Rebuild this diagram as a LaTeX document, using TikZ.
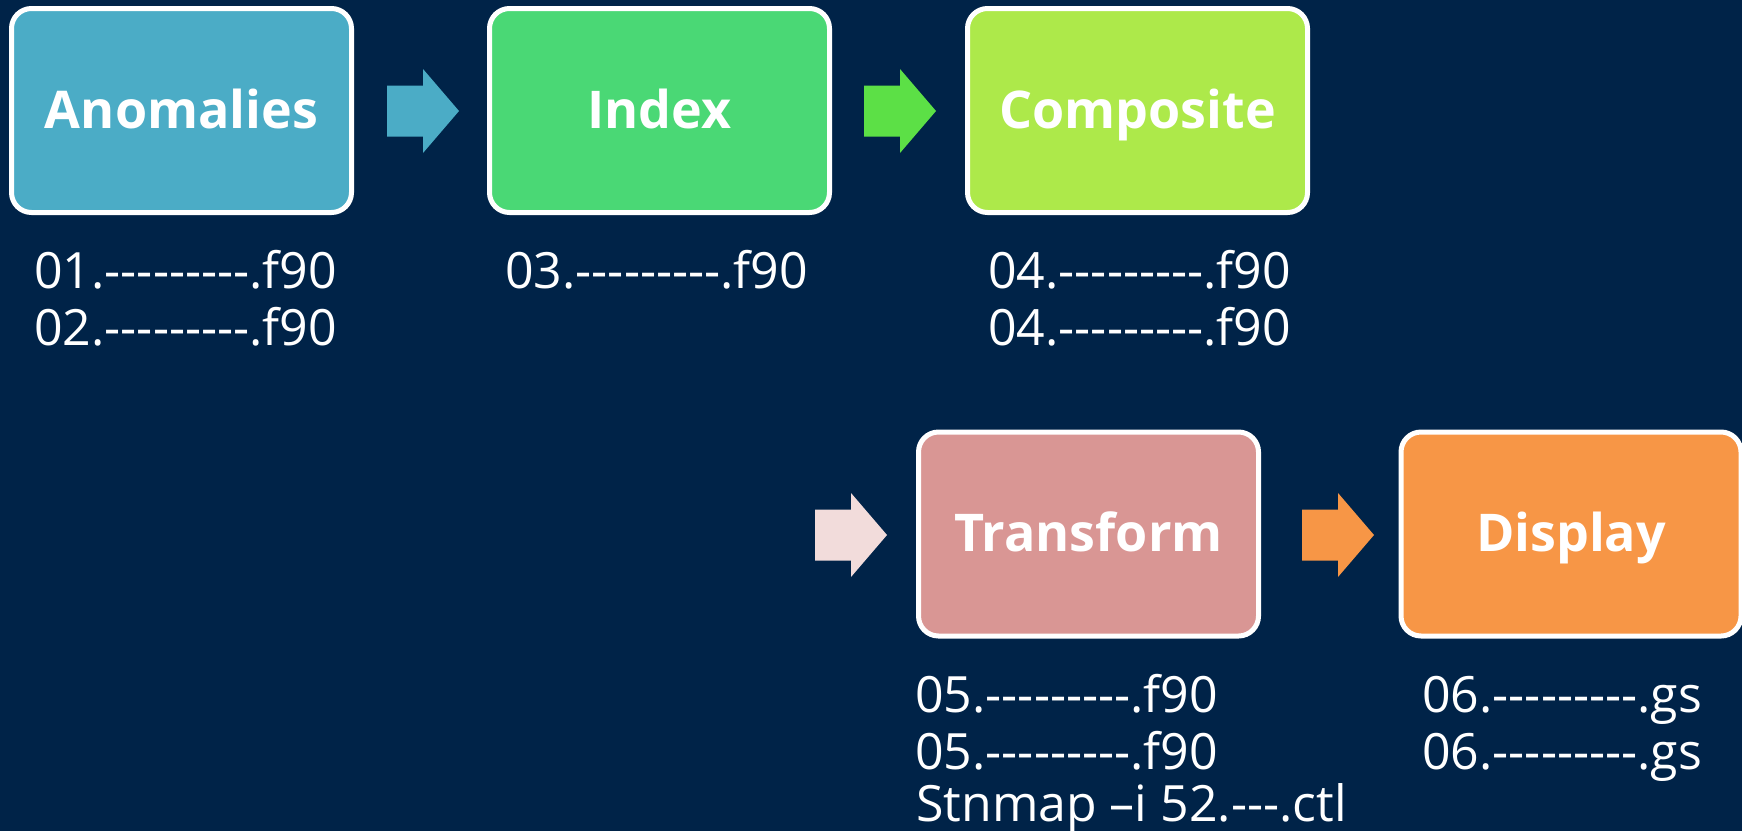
\documentclass[tikz,border=0pt]{standalone}
\usepackage{fontspec}
\setmainfont{Open Sans}
% plain hyphens in the file names, no dash ligatures
\newfontfamily\filefont{Open Sans}[Ligatures=TeXOff]
\definecolor{bgnavy}{RGB}{0,35,72}
\definecolor{anomcol}{RGB}{75,172,198}
\definecolor{indexcol}{RGB}{74,216,117}
\definecolor{compcol}{RGB}{173,233,74}
\definecolor{transcol}{RGB}{217,150,148}
\definecolor{dispcol}{RGB}{247,150,70}
\definecolor{greenarr}{RGB}{92,224,70}
\definecolor{pinkarr}{RGB}{242,220,219}
\begin{document}
\begin{tikzpicture}[x=1pt,y=-1pt,
		box/.style={draw=white,line width=5pt,rounded corners=20pt,
			minimum width=340pt,minimum height=204pt,inner sep=0pt,
			text height=35pt,text depth=0pt,text=white,
			font=\fontsize{52}{56}\selectfont\bfseries},
		file/.style={anchor=base west,inner sep=0pt,text=white,
			font=\filefont\fontsize{50}{57}\selectfont}]
	% block arrow: colour, x where the head starts, y of the axis
	\def\blockarrow#1#2#3{\fill[#1] (#2-36,#3-25.5)--(#2,#3-25.5)--(#2,#3-42)
		--(#2+36,#3)--(#2,#3+42)--(#2,#3+25.5)--(#2-36,#3+25.5)--cycle;}
	\fill[bgnavy] (0,0) rectangle (1742,831);
	\useasboundingbox (0,0) rectangle (1742,831);
	% first row
	\node[box,fill=anomcol] (anom) at (181.5,110.5) {Anomalies};
	\node[box,fill=indexcol] (index) at (659.5,110.5) {Index};
	\node[box,fill=compcol] (comp) at (1137.5,110.5) {Composite};
	% second row
	\node[box,fill=transcol] (trans) at (1088.5,534) {Transform};
	\node[box,fill=dispcol] (disp) at (1571,534) {Display};
	\blockarrow{anomcol}{423}{111}
	\blockarrow{greenarr}{900}{111}
	\blockarrow{pinkarr}{851}{535}
	\blockarrow{dispcol}{1338}{535}
	% source files under each step
	\node[file] (a1) at (34,288) {01.---------.f90};
	\node[file] (a2) at (34,345) {02.---------.f90};
	\node[file] (i1) at (505,288) {03.---------.f90};
	\node[file] (c1) at (988,288) {04.---------.f90};
	\node[file] (c2) at (988,345) {04.---------.f90};
	\node[file] (t1) at (915,712) {05.---------.f90};
	\node[file] (t2) at (915,769) {05.---------.f90};
	\node[file] (t3) at (916,821) {Stnmap –i 52.---.ctl};
	\node[file] (d1) at (1422,712) {06.---------.gs};
	\node[file] (d2) at (1422,769) {06.---------.gs};
\end{tikzpicture}
\end{document}
